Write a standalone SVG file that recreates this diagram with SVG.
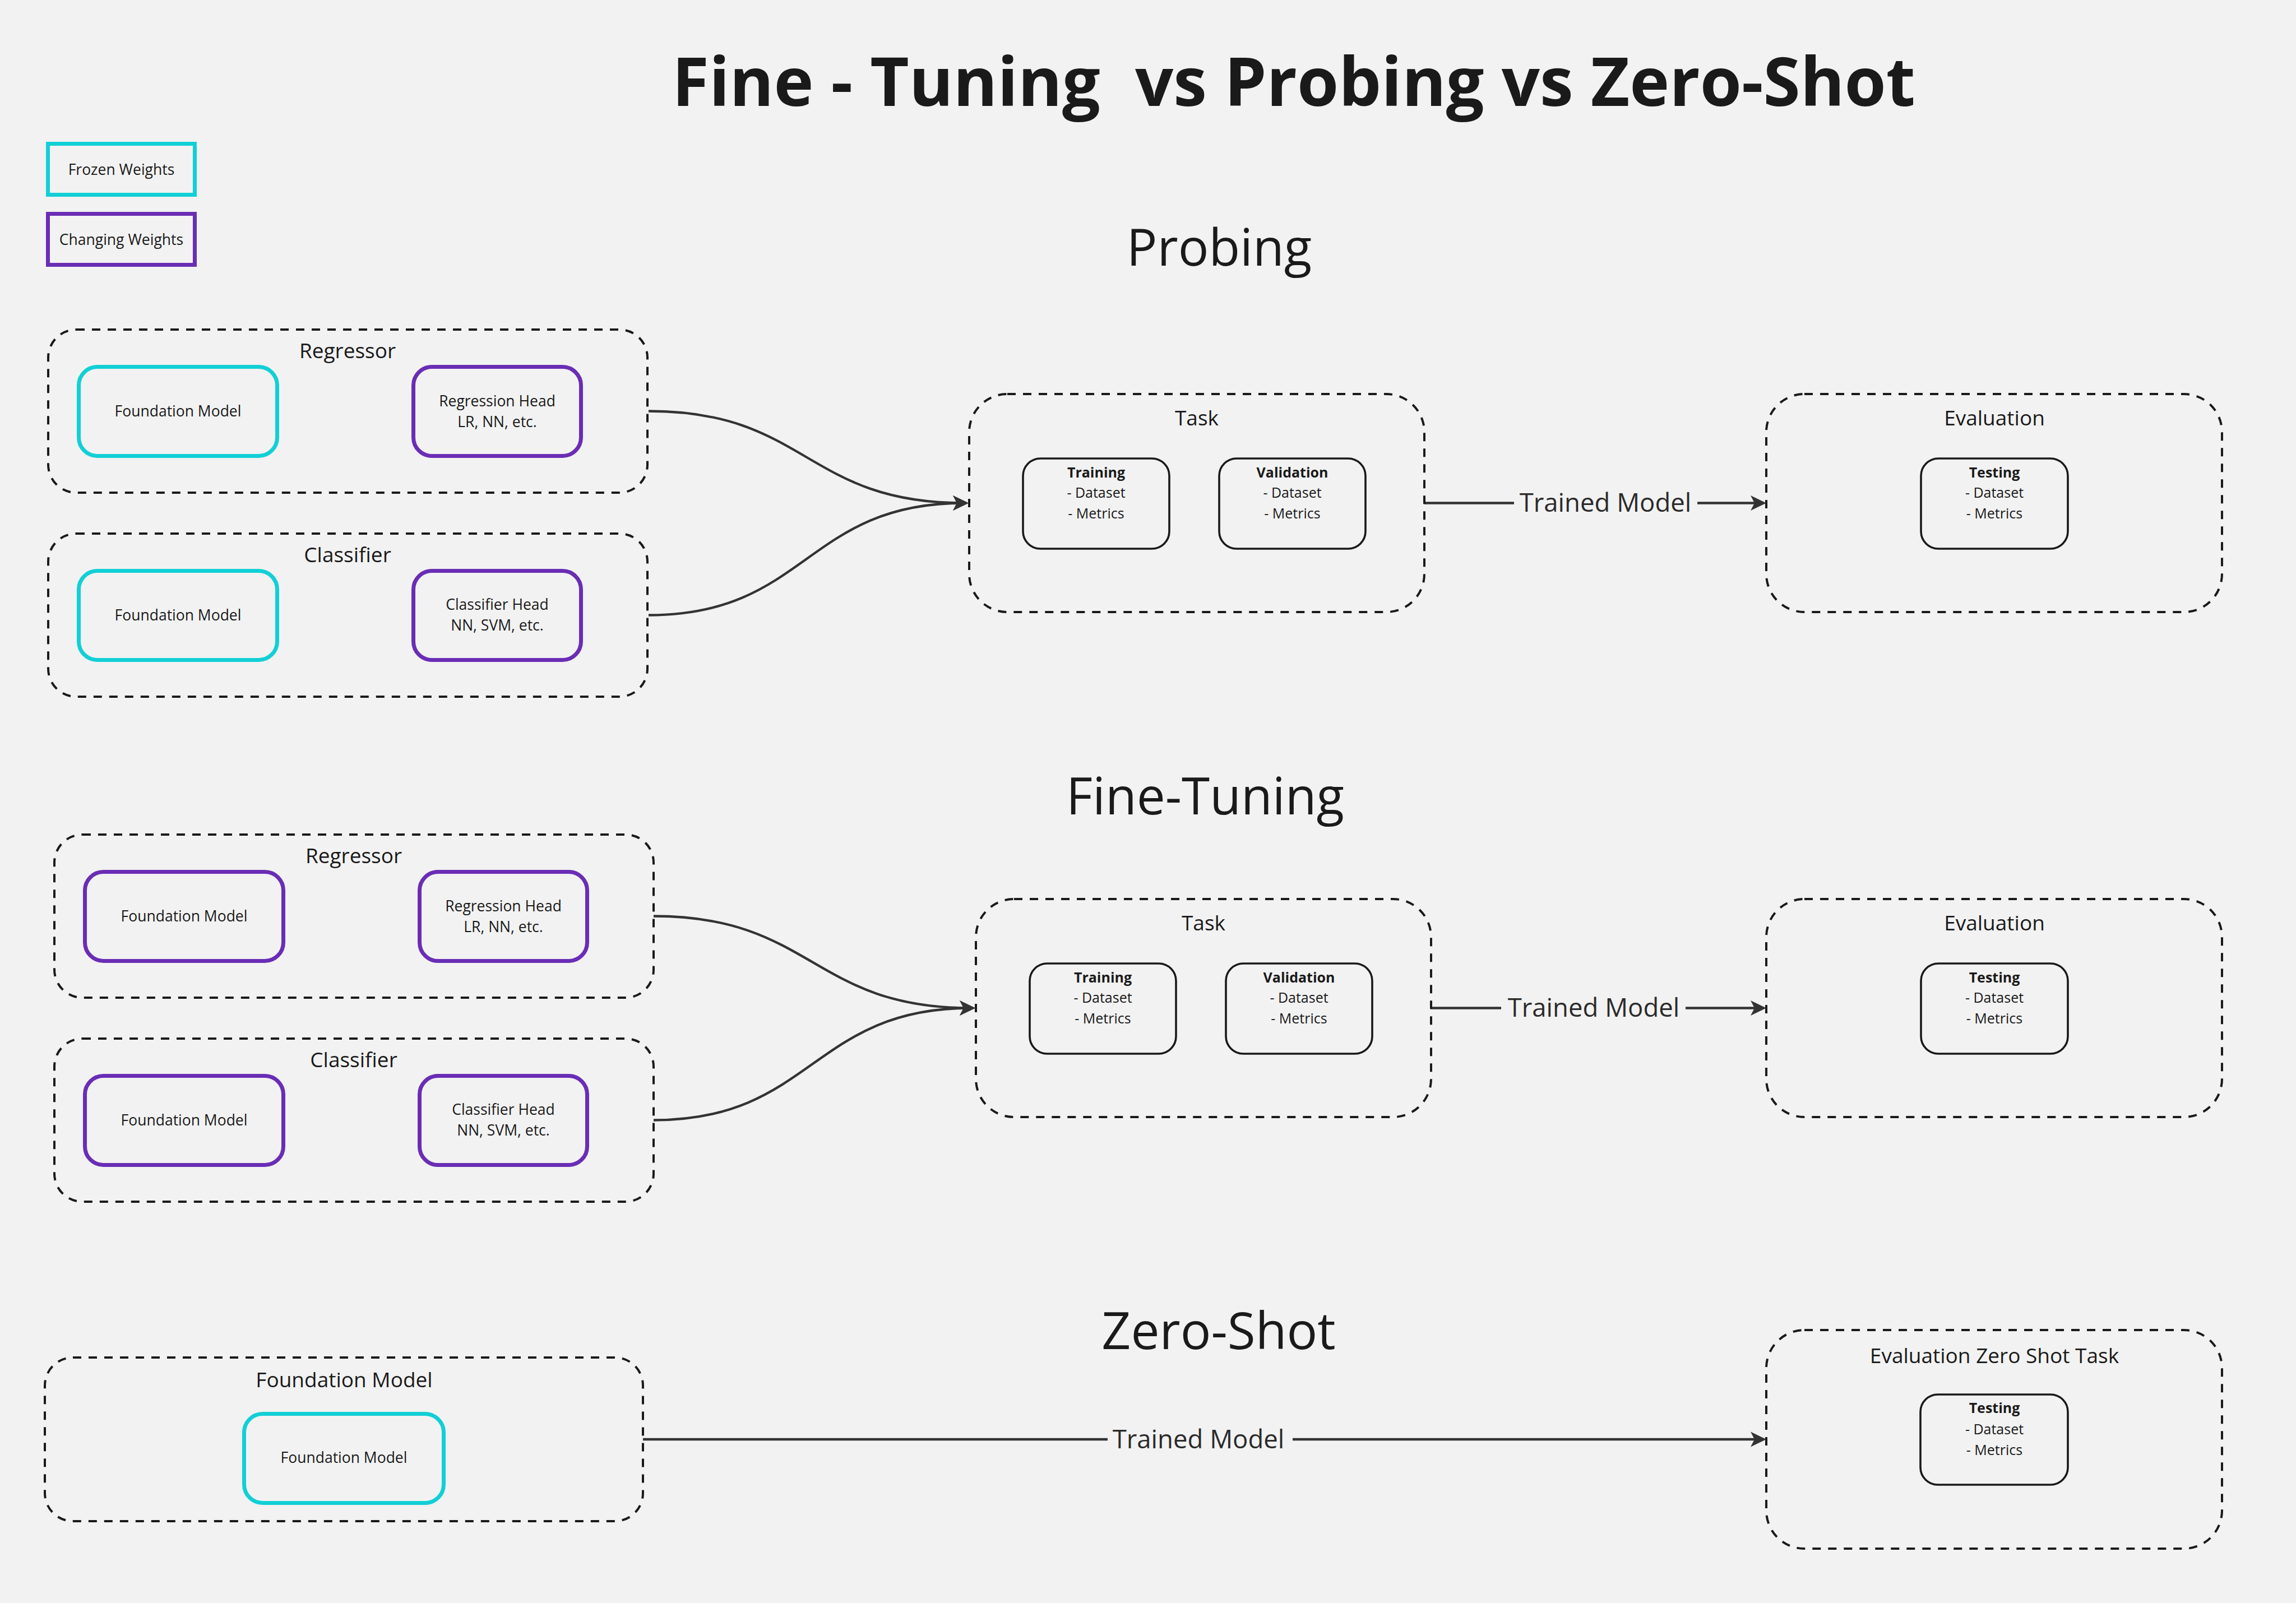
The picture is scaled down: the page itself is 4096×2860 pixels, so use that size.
<svg xmlns="http://www.w3.org/2000/svg" width="4096" height="2860" viewBox="0 0 4096 2860">
<style>
text{font-family:"Open Sans","Noto Sans","Liberation Sans",sans-serif;fill:#1a1a1a;text-anchor:middle}
.title{font-size:120px;font-weight:700;white-space:pre}
.heading{font-size:91px}
.glabel{font-size:37px}
.blabel{font-size:37px}
.small{font-size:26.5px}
.item{font-size:25px}
.item-b{font-size:25px;font-weight:700}
.edge-label{font-size:45.5px;fill:#2b2b2b}
.group{fill:none;stroke:#1a1a1a;stroke-width:4;stroke-dasharray:15 13}
.frozen{fill:none;stroke:#12cfd6;stroke-width:7}
.changing{fill:none;stroke:#6a2db5;stroke-width:7}
.plain{fill:none;stroke:#1a1a1a;stroke-width:3.6}
.conn{fill:none;stroke:#333333;stroke-width:4.3;marker-end:url(#arrow)}
.lbg{fill:#f2f2f2}
</style>
<defs>
<marker id="arrow" markerUnits="userSpaceOnUse" markerWidth="34" markerHeight="32" viewBox="-26 -16 34 32" refX="0" refY="0" orient="auto">
<path d="M8,0 L-20,-13.5 L-13,0 L-20,13.5 Z" fill="#333333"/>
</marker>
</defs>
<rect x="0" y="0" width="4096" height="2860" fill="#f2f2f2"/>

<g id="title"><text class="title" x="2308" y="189">Fine - Tuning  vs Probing vs Zero-Shot</text></g>

<g id="legend-frozen"><rect class="frozen" x="85.5" y="256.5" width="262" height="91"/><text class="small" x="216.5" y="312">Frozen Weights</text></g>
<g id="legend-changing"><rect class="changing" x="85.5" y="381.5" width="262" height="91"/><text class="small" x="216.5" y="437">Changing Weights</text></g>

<g id="heading-probing"><text class="heading" x="2175" y="474">Probing</text></g>
<g id="heading-finetuning"><text class="heading" x="2150" y="1453">Fine-Tuning</text></g>
<g id="heading-zeroshot"><text class="heading" x="2174" y="2407">Zero-Shot</text></g>

<!-- Connectors -->
<g id="connectors">
<path class="conn" d="M1157,733.5 C1440,733.5 1437,897.5 1720,897.5"/>
<path class="conn" d="M1157,1097.5 C1440,1097.5 1437,897.5 1720,897.5"/>
<path class="conn" d="M2541,897.5 H3143"/>
<rect class="lbg" x="2701" y="870" width="327" height="55"/>
<text class="edge-label" x="2864" y="913">Trained Model</text>

<path class="conn" d="M1166,1634.5 C1450,1634.5 1449,1798.5 1732,1798.5"/>
<path class="conn" d="M1166,1998.5 C1450,1998.5 1449,1798.5 1732,1798.5"/>
<path class="conn" d="M2553,1798.5 H3143"/>
<rect class="lbg" x="2678" y="1771" width="329" height="55"/>
<text class="edge-label" x="2843" y="1814">Trained Model</text>

<path class="conn" d="M1147,2568 H3143"/>
<rect class="lbg" x="1976" y="2541" width="330" height="55"/>
<text class="edge-label" x="2138" y="2583.5">Trained Model</text>
</g>

<!-- Probing -->
<g id="probing-regressor">
<rect class="group" x="86" y="588" width="1069" height="291" rx="50"/>
<text class="glabel" x="620" y="639">Regressor</text>
<g id="probing-regressor-fm"><rect class="frozen" x="140.5" y="654.5" width="354" height="159" rx="33"/><text class="small" x="317.5" y="743">Foundation Model</text></g>
<g id="probing-regressor-head"><rect class="changing" x="737.5" y="654.5" width="299" height="159" rx="33"/><text class="small" x="887" y="725">Regression Head</text><text class="small" x="887" y="762">LR, NN, etc.</text></g>
</g>
<g id="probing-classifier">
<rect class="group" x="86" y="952" width="1069" height="291" rx="50"/>
<text class="glabel" x="620" y="1003">Classifier</text>
<g id="probing-classifier-fm"><rect class="frozen" x="140.5" y="1018.5" width="354" height="159" rx="33"/><text class="small" x="317.5" y="1107">Foundation Model</text></g>
<g id="probing-classifier-head"><rect class="changing" x="737.5" y="1018.5" width="299" height="159" rx="33"/><text class="small" x="887" y="1088">Classifier Head</text><text class="small" x="887" y="1125">NN, SVM, etc.</text></g>
</g>
<g id="probing-task">
<rect class="group" x="1729" y="703" width="812" height="389" rx="68"/>
<text class="blabel" x="2135" y="759">Task</text>
<g id="probing-training"><rect class="plain" x="1825" y="818" width="261" height="161" rx="31"/><text class="item-b" x="1955.5" y="852">Training</text><text class="item" x="1955.5" y="888">- Dataset</text><text class="item" x="1955.5" y="925">- Metrics</text></g>
<g id="probing-validation"><rect class="plain" x="2175" y="818" width="261" height="161" rx="31"/><text class="item-b" x="2305.5" y="852">Validation</text><text class="item" x="2305.5" y="888">- Dataset</text><text class="item" x="2305.5" y="925">- Metrics</text></g>
</g>
<g id="probing-evaluation">
<rect class="group" x="3151" y="703" width="813" height="389" rx="68"/>
<text class="blabel" x="3558" y="759">Evaluation</text>
<g id="probing-testing"><rect class="plain" x="3427" y="818" width="262" height="161" rx="31"/><text class="item-b" x="3558" y="852">Testing</text><text class="item" x="3558" y="888">- Dataset</text><text class="item" x="3558" y="925">- Metrics</text></g>
</g>

<!-- Fine-Tuning -->
<g id="ft-regressor">
<rect class="group" x="97" y="1489" width="1069" height="291" rx="50"/>
<text class="glabel" x="631" y="1540">Regressor</text>
<g id="ft-regressor-fm"><rect class="changing" x="151.5" y="1555.5" width="354" height="159" rx="33"/><text class="small" x="328.5" y="1644">Foundation Model</text></g>
<g id="ft-regressor-head"><rect class="changing" x="748.5" y="1555.5" width="299" height="159" rx="33"/><text class="small" x="898" y="1626">Regression Head</text><text class="small" x="898" y="1663">LR, NN, etc.</text></g>
</g>
<g id="ft-classifier">
<rect class="group" x="97" y="1853" width="1069" height="291" rx="50"/>
<text class="glabel" x="631" y="1904">Classifier</text>
<g id="ft-classifier-fm"><rect class="changing" x="151.5" y="1919.5" width="354" height="159" rx="33"/><text class="small" x="328.5" y="2008">Foundation Model</text></g>
<g id="ft-classifier-head"><rect class="changing" x="748.5" y="1919.5" width="299" height="159" rx="33"/><text class="small" x="898" y="1989">Classifier Head</text><text class="small" x="898" y="2026">NN, SVM, etc.</text></g>
</g>
<g id="ft-task">
<rect class="group" x="1741" y="1604" width="812" height="389" rx="68"/>
<text class="blabel" x="2147" y="1660">Task</text>
<g id="ft-training"><rect class="plain" x="1837" y="1719" width="261" height="161" rx="31"/><text class="item-b" x="1967.5" y="1753">Training</text><text class="item" x="1967.5" y="1789">- Dataset</text><text class="item" x="1967.5" y="1826">- Metrics</text></g>
<g id="ft-validation"><rect class="plain" x="2187" y="1719" width="261" height="161" rx="31"/><text class="item-b" x="2317.5" y="1753">Validation</text><text class="item" x="2317.5" y="1789">- Dataset</text><text class="item" x="2317.5" y="1826">- Metrics</text></g>
</g>
<g id="ft-evaluation">
<rect class="group" x="3151" y="1604" width="813" height="389" rx="68"/>
<text class="blabel" x="3558" y="1660">Evaluation</text>
<g id="ft-testing"><rect class="plain" x="3427" y="1719" width="262" height="161" rx="31"/><text class="item-b" x="3558" y="1753">Testing</text><text class="item" x="3558" y="1789">- Dataset</text><text class="item" x="3558" y="1826">- Metrics</text></g>
</g>

<!-- Zero-Shot -->
<g id="zs-foundation">
<rect class="group" x="80" y="2422" width="1067" height="292" rx="50"/>
<text class="glabel" x="614" y="2475">Foundation Model</text>
<g id="zs-fm"><rect class="frozen" x="435.5" y="2522.5" width="356" height="159" rx="33"/><text class="small" x="613.5" y="2610">Foundation Model</text></g>
</g>
<g id="zs-evaluation">
<rect class="group" x="3151" y="2373" width="813" height="390" rx="68"/>
<text class="blabel" x="3558" y="2432">Evaluation Zero Shot Task</text>
<g id="zs-testing"><rect class="plain" x="3426" y="2488" width="263" height="161" rx="31"/><text class="item-b" x="3558" y="2521">Testing</text><text class="item" x="3558" y="2559">- Dataset</text><text class="item" x="3558" y="2596">- Metrics</text></g>
</g>
</svg>
